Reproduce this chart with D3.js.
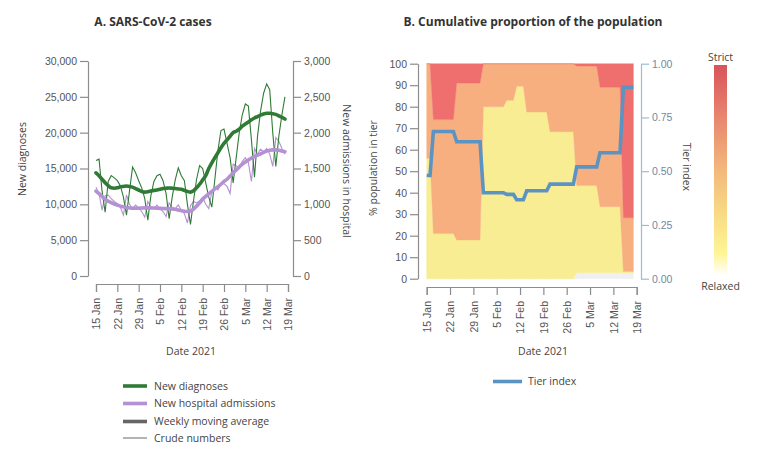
<!DOCTYPE html>
<html><head><meta charset="utf-8">
<script src="https://cdn.jsdelivr.net/npm/d3@7"></script>
<style>
body{margin:0;background:#fff;}
svg{font-family:"Open Sans","Noto Sans",sans-serif;}
</style></head><body>
<svg id="chart" width="761" height="452"></svg>
<script>
// ---------------- DATA ----------------
const startDate = "2021-01-15";
const tickLabels = ["15 Jan","22 Jan","29 Jan","5 Feb","12 Feb","19 Feb","26 Feb","5 Mar","12 Mar","19 Mar"];

// Daily values, 15 Jan .. 18 Mar 2021
const diagnosesCrude = [16100,16300,11800,8900,13200,14000,13700,13300,12600,11000,8500,11900,15200,14400,13300,12300,10800,7800,11200,13200,14000,14200,13300,11500,8000,11000,13400,15100,14000,13300,10000,7200,10500,13500,15400,15000,13000,11000,9600,13500,17500,20300,20500,18500,16500,13000,16500,20000,22500,24000,23700,19000,13800,19500,23000,25500,26800,26000,20000,15300,19500,22500,25000];
const diagnosesAvg = [14400,14000,13500,13000,12600,12300,12250,12300,12450,12500,12550,12500,12400,12200,12000,11800,11700,11750,11850,11950,12000,12100,12200,12250,12280,12250,12200,12150,12100,11950,11800,11700,11900,12300,12800,13400,14000,15000,15800,16500,17200,17900,18500,19000,19500,20000,20200,20500,20900,21200,21500,21800,22050,22250,22450,22600,22700,22700,22650,22550,22350,22150,21900];
const admissionsCrude = [1240,1150,920,1120,1130,1080,1040,1010,960,850,1130,1000,940,990,950,900,820,1040,960,940,990,940,900,830,1020,960,940,990,920,870,740,980,1040,1020,1050,1100,1000,940,1180,1230,1200,1280,1290,1250,1150,1560,1540,1500,1600,1650,1580,1320,1780,1700,1770,1730,1780,1700,1530,1930,1880,1780,1700];
const admissionsAvg = [1185,1150,1110,1070,1045,1025,1005,990,975,965,955,950,945,945,945,948,950,950,950,948,946,944,942,940,938,935,930,920,910,903,900,905,935,975,1020,1070,1110,1145,1180,1215,1245,1280,1320,1350,1395,1440,1480,1520,1560,1590,1620,1645,1665,1685,1705,1725,1745,1755,1760,1760,1755,1745,1735];

// % of population in each tier (bottom to top)
const tierNames = ["none","relaxed","medium","strict"];
const tierNone    = [0,0,0,0,0,0,0,0,0,0,0,0,0,0,0,0,0,0,0,0,0,0,0,0,0,0,0,0,0,0,0,0,0,0,0,0,0,0,0,0,0,0,0,0,0,2.8,2.8,2.8,2.8,2.8,2.8,2.8,2.8,2.8,2.8,2.8,2.8,2.8,2.8,2.8,2.8,2.8,2.8];
const tierRelaxed = [56,56,21,21,21,21,21,21,21,18,18,18,18,18,18,18,18,80,80,80,80,80,80,80,83,83,83,89.5,89.5,89.5,77.5,77.5,77.5,77.5,77.5,77.5,77.5,68.4,68.4,68.4,68.4,68.4,68.4,68.4,68.4,40.5,40.5,40.5,40.5,40.5,40.5,40.5,30.7,30.7,30.7,30.7,30.7,30.7,30.7,0.5,0.5,0.5,0.5];
const tierMedium  = [44,44,53,53,53,53,53,53,53,73,73,73,73,73,73,73,73,20,20,20,20,20,20,20,17,17,17,10.5,10.5,10.5,22.5,22.5,22.5,22.5,22.5,22.5,22.5,31.6,31.6,31.6,31.6,31.6,31.6,31.6,31.6,55.6,55.6,55.6,55.6,55.6,55.6,55.6,55.5,55.5,55.5,55.5,55.5,55.5,55.5,25.1,25.1,25.1,25.1];
const tierStrict  = [0,0,26,26,26,26,26,26,26,9,9,9,9,9,9,9,9,0,0,0,0,0,0,0,0,0,0,0,0,0,0,0,0,0,0,0,0,0,0,0,0,0,0,0,0,1.1,1.1,1.1,1.1,1.1,1.1,1.1,11,11,11,11,11,11,11,71.6,71.6,71.6,71.6];
const tierIndex   = [0.48,0.48,0.685,0.685,0.685,0.685,0.685,0.685,0.685,0.637,0.637,0.637,0.637,0.637,0.637,0.637,0.637,0.40,0.40,0.40,0.40,0.40,0.40,0.40,0.392,0.392,0.392,0.367,0.367,0.367,0.409,0.409,0.409,0.409,0.409,0.409,0.409,0.44,0.44,0.44,0.44,0.44,0.44,0.44,0.44,0.52,0.52,0.52,0.52,0.52,0.52,0.52,0.586,0.586,0.586,0.586,0.586,0.586,0.586,0.89,0.89,0.89,0.89];

const leftTicks = [0,5000,10000,15000,20000,25000,30000];
const rightTicks = [0,500,1000,1500,2000,2500,3000];
const pctTicks = [0,10,20,30,40,50,60,70,80,90,100];
const idxTicks = [0,0.25,0.5,0.75,1];

// ---------------- HELPERS ----------------
const parseDay = d3.utcParse("%Y-%m-%d");
const t0 = parseDay(startDate);
const dates = diagnosesCrude.map((_, i) => d3.utcDay.offset(t0, i));
const parseTick = d3.utcParse("%d %b %Y");
const tickDates = tickLabels.map(s => parseTick(s + " 2021"));
const xDomain = [tickDates[0], tickDates[tickDates.length - 1]];

const svg = d3.select("#chart");
const AX = "#8c8c8c", TXT = "#555";
const GREEN = "#2f7b35", PURPLE = "#b391d2", BLUE = "#5b93c2";

function styleAxis(g, col, tcol) {
  g.select(".domain").attr("stroke", col).attr("stroke-width", 1.2);
  g.selectAll(".tick line").attr("stroke", col).attr("stroke-width", 1.2);
  g.selectAll(".tick text").attr("fill", tcol || TXT).style("font-size", "10.5px");
}
function xAxis(x, y) {
  const g = svg.append("g").attr("transform", `translate(0,${y})`)
    .call(d3.axisBottom(x).tickValues(tickDates).tickSizeOuter(0).tickSize(8)
      .tickFormat((d, i) => tickLabels[i]));
  styleAxis(g, AX);
  g.selectAll(".tick text").attr("transform", "rotate(-90)")
    .attr("x", -14).attr("y", 0).attr("dy", "0.35em").style("text-anchor", "end");
  return g;
}
function text(x, y, s, opts = {}) {
  const t = svg.append("text").attr("x", x).attr("y", y).text(s)
    .attr("fill", opts.fill || "#444").style("font-size", (opts.size || 10.5) + "px")
    .attr("text-anchor", opts.anchor || "middle");
  if (opts.bold) t.style("font-weight", "bold");
  if (opts.rot) t.attr("transform", `rotate(${opts.rot},${x},${y})`);
  if (opts.dy) t.attr("dy", opts.dy);
  return t;
}

// ---------------- PANEL A ----------------
const xA = d3.scaleUtc().domain(xDomain).range([96, 288]);
const yA = d3.scaleLinear().domain([0, 30000]).range([276, 61]);
const yA2 = d3.scaleLinear().domain([0, 3000]).range([276, 61]);

const gL = svg.append("g").attr("transform", "translate(88,0)")
  .call(d3.axisLeft(yA).tickValues(leftTicks).tickSize(8).tickSizeOuter(0).tickFormat(d3.format(",")));
styleAxis(gL, AX);
const gR = svg.append("g").attr("transform", "translate(293,0)")
  .call(d3.axisRight(yA2).tickValues(rightTicks).tickSize(8).tickSizeOuter(0).tickFormat(d3.format(",")));
styleAxis(gR, AX);
xAxis(xA, 284);

const lineA = d3.line().x((d, i) => xA(dates[i])).y(d => yA(d));
const lineA2 = d3.line().x((d, i) => xA(dates[i])).y(d => yA2(d));
const smoothA = d3.line().x((d, i) => xA(dates[i])).y(d => yA(d)).curve(d3.curveMonotoneX);
const smoothA2 = d3.line().x((d, i) => xA(dates[i])).y(d => yA2(d)).curve(d3.curveMonotoneX);

svg.append("path").attr("d", lineA2(admissionsCrude)).attr("fill", "none").attr("stroke", PURPLE).attr("stroke-width", 1.1);
svg.append("path").attr("d", lineA(diagnosesCrude)).attr("fill", "none").attr("stroke", GREEN).attr("stroke-width", 1.1);
svg.append("path").attr("d", smoothA2(admissionsAvg)).attr("fill", "none").attr("stroke", PURPLE).attr("stroke-width", 3.6).attr("stroke-linecap", "round");
svg.append("path").attr("d", smoothA(diagnosesAvg)).attr("fill", "none").attr("stroke", GREEN).attr("stroke-width", 3.6).attr("stroke-linecap", "round");

text(153, 26, "A. SARS-CoV-2 cases", { bold: true, size: 12, fill: "#333" });
text(22, 159, "New diagnoses", { rot: -90, dy: "0.35em" });
text(347, 171, "New admissions in hospital", { rot: 90, dy: "0.35em" });
text(191, 355, "Date 2021");

const legA = [
  { label: "New diagnoses", color: GREEN, w: 3.6, y: 386 },
  { label: "New hospital admissions", color: PURPLE, w: 3.6, y: 403.5 },
  { label: "Weekly moving average", color: "#666", w: 3.6, y: 421.5 },
  { label: "Crude numbers", color: "#777", w: 1.1, y: 438 }
];
legA.forEach(l => {
  svg.append("line").attr("x1", 123).attr("x2", 147).attr("y1", l.y).attr("y2", l.y)
    .attr("stroke", l.color).attr("stroke-width", l.w);
  text(154, l.y, l.label, { anchor: "start", dy: "0.35em" });
});

// ---------------- PANEL B ----------------
const xB = d3.scaleUtc().domain(xDomain).range([426.7, 636.7]);
const yB = d3.scaleLinear().domain([0, 100]).range([278.7, 63.7]);
const yB2 = d3.scaleLinear().domain([0, 1]).range([278.7, 63.7]);

const tierRows = dates.map((d, i) => ({ date: d, none: tierNone[i], relaxed: tierRelaxed[i], medium: tierMedium[i], strict: tierStrict[i] }));
const stack = d3.stack().keys(tierNames)(tierRows);
const tierColors = { none: "#eff0f2", relaxed: "#f9ed93", medium: "#f7af80", strict: "#ef6f6e" };
const area = d3.area().x(d => xB(d.data.date)).y0(d => yB(d[0])).y1(d => yB(d[1]));
stack.forEach(s => {
  svg.append("path").attr("d", area(s)).attr("fill", tierColors[s.key]).attr("stroke", tierColors[s.key]).attr("stroke-width", 0.4);
});

const gBL = svg.append("g").attr("transform", "translate(418,0)")
  .call(d3.axisLeft(yB).tickValues(pctTicks).tickSize(8).tickSizeOuter(0));
styleAxis(gBL, AX);
const gBR = svg.append("g").attr("transform", "translate(641,0)")
  .call(d3.axisRight(yB2).tickValues(idxTicks).tickSize(8).tickSizeOuter(0).tickFormat(d3.format(".2f")));
styleAxis(gBR, "#9dbbd6", "#6f8aa3");
xAxis(xB, 287);

const tierLine = d3.line().x((d, i) => xB(dates[i])).y(d => yB2(d));
svg.append("path").attr("d", tierLine(tierIndex)).attr("fill", "none").attr("stroke", BLUE).attr("stroke-width", 3.6);

text(533, 26, "B. Cumulative proportion of the population", { bold: true, size: 12, fill: "#333" });
text(373, 168, "% population in tier", { rot: -90, dy: "0.35em" });
text(687, 167, "Tier index", { rot: 90, dy: "0.35em" });
text(543, 355, "Date 2021");

svg.append("line").attr("x1", 493).attr("x2", 522).attr("y1", 381.5).attr("y2", 381.5)
  .attr("stroke", BLUE).attr("stroke-width", 3.6);
text(528, 381.5, "Tier index", { anchor: "start", dy: "0.35em" });

// colour bar
const defs = svg.append("defs");
const grad = defs.append("linearGradient").attr("id", "tiergrad").attr("x1", 0).attr("x2", 0).attr("y1", 0).attr("y2", 1);
[[0, "#d9535b"], [0.25, "#e8866e"], [0.5, "#f3b87c"], [0.72, "#f8dc84"], [0.9, "#fff597"], [1, "#ffffff"]]
  .forEach(([o, c]) => grad.append("stop").attr("offset", o).attr("stop-color", c));
svg.append("rect").attr("x", 714).attr("y", 65).attr("width", 13).attr("height", 210).attr("fill", "url(#tiergrad)");
text(720.5, 61, "Strict", { size: 10.5 });
text(720.5, 290, "Relaxed", { size: 10.5 });
</script>
</body></html>
